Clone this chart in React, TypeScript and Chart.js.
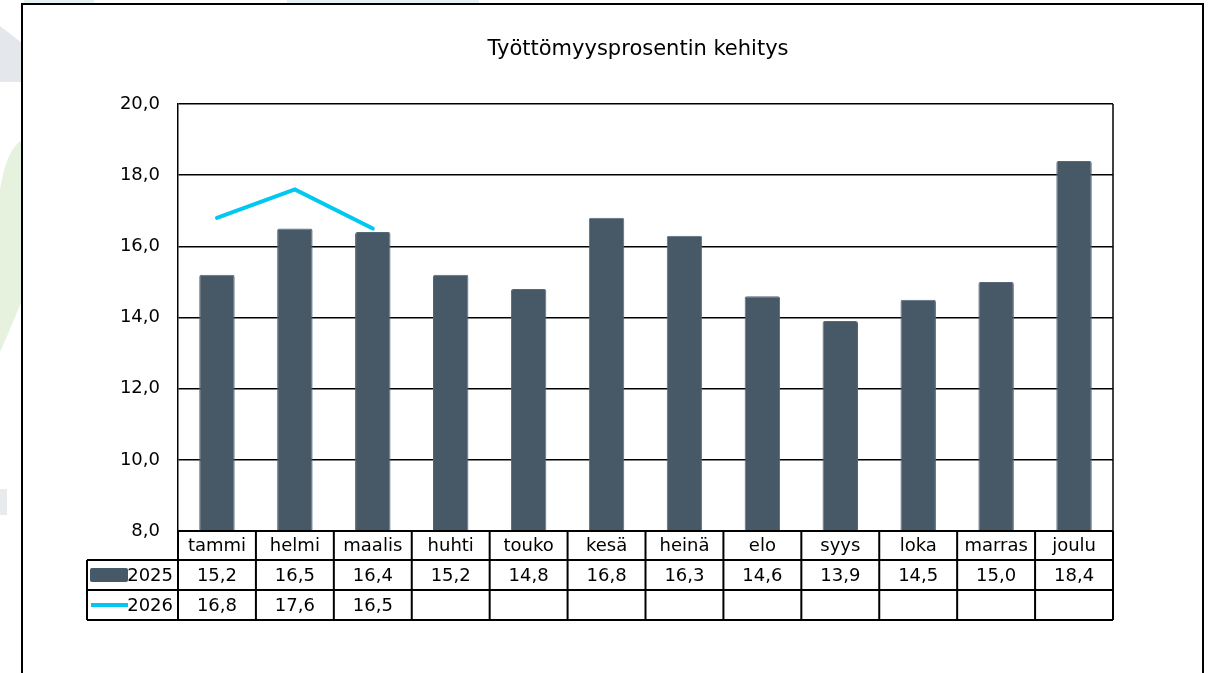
import React, { useEffect, useRef } from 'react';
import { Chart, registerables } from 'chart.js';

Chart.register(...registerables);

const TITLE = 'Työttömyysprosentin kehitys';
const MONTHS = ['tammi', 'helmi', 'maalis', 'huhti', 'touko', 'kesä', 'heinä', 'elo', 'syys', 'loka', 'marras', 'joulu'];
const LABEL_2025 = '2025';
const LABEL_2026 = '2026';
const VALUES_2025 = [15.2, 16.5, 16.4, 15.2, 14.8, 16.8, 16.3, 14.6, 13.9, 14.5, 15.0, 18.4];
const VALUES_2026: (number | null)[] = [16.8, 17.6, 16.5, null, null, null, null, null, null, null, null, null];
const Y_MIN = 8;
const Y_MAX = 20;
const Y_STEP = 2;

const BAR_COLOR = '#475866';
const BAR_EDGE = '#566779';
const LINE_COLOR = '#00c8f0';
const FONT = "'DejaVu Sans', sans-serif";

const fmt = (v: number) => v.toFixed(1).replace('.', ',');

const decorPlugin = {
  id: 'decor',
  beforeDraw(chart: any) {
    const ctx = chart.ctx;
    ctx.save();
    ctx.fillStyle = '#ffffff';
    ctx.fillRect(0, 0, chart.width, chart.height);
    // faint background shapes outside the frame
    ctx.fillStyle = '#e4e8ec';
    ctx.beginPath();
    ctx.moveTo(0, 26);
    ctx.lineTo(22, 43);
    ctx.lineTo(22, 82);
    ctx.lineTo(0, 82);
    ctx.closePath();
    ctx.fill();
    ctx.fillStyle = '#e6f1de';
    ctx.beginPath();
    ctx.moveTo(0, 190);
    ctx.quadraticCurveTo(6, 150, 22, 140);
    ctx.lineTo(22, 300);
    ctx.quadraticCurveTo(10, 330, 0, 352);
    ctx.closePath();
    ctx.fill();
    ctx.fillStyle = '#e8ebee';
    ctx.fillRect(0, 489, 7, 26);
    ctx.fillStyle = '#e4f0f2';
    ctx.fillRect(24, 0, 70, 3);
    ctx.fillRect(287, 0, 192, 3);
    // outer frame
    ctx.strokeStyle = '#000';
    ctx.lineWidth = 2;
    ctx.strokeRect(22, 4, 1181, 700);
    ctx.restore();
  },
  afterDraw(chart: any) {
    const ctx = chart.ctx;
    const area = chart.chartArea;
    const xs = chart.scales.x;
    const n = MONTHS.length;
    const colW = (area.right - area.left) / n;
    const y0 = area.bottom;
    const y1 = y0 + 29;
    const y2 = y1 + 30;
    const y3 = y2 + 30;
    const legLeft = 87;
    ctx.save();
    // title
    ctx.fillStyle = '#000';
    ctx.font = `21px ${FONT}`;
    ctx.textAlign = 'center';
    ctx.textBaseline = 'middle';
    ctx.fillText(TITLE, 638, 50);
    // right border of plot
    ctx.strokeStyle = '#000';
    ctx.lineWidth = 1.5;
    ctx.beginPath();
    ctx.moveTo(area.right, area.top);
    ctx.lineTo(area.right, area.bottom);
    ctx.stroke();
    // table lines
    ctx.lineWidth = 2;
    ctx.beginPath();
    ctx.moveTo(area.left, y0);
    ctx.lineTo(area.right, y0);
    for (const y of [y1, y2, y3]) {
      ctx.moveTo(legLeft, y);
      ctx.lineTo(area.right, y);
    }
    ctx.moveTo(legLeft, y1);
    ctx.lineTo(legLeft, y3);
    for (let i = 0; i <= n; i++) {
      const x = area.left + i * colW;
      ctx.moveTo(x, y0);
      ctx.lineTo(x, y3);
    }
    ctx.stroke();
    // texts
    ctx.font = `18px ${FONT}`;
    ctx.fillStyle = '#000';
    ctx.textAlign = 'center';
    ctx.textBaseline = 'middle';
    for (let i = 0; i < n; i++) {
      const cx = xs.getPixelForValue(i);
      ctx.fillText(MONTHS[i], cx, (y0 + y1) / 2 + 1);
      const a = VALUES_2025[i];
      if (a != null) ctx.fillText(fmt(a), cx, (y1 + y2) / 2 + 1);
      const b = VALUES_2026[i];
      if (b != null) ctx.fillText(fmt(b), cx, (y2 + y3) / 2 + 1);
    }
    // legend keys
    ctx.fillStyle = BAR_COLOR;
    ctx.beginPath();
    (ctx as any).roundRect(90, y1 + 8, 38, 14, 2);
    ctx.fill();
    ctx.strokeStyle = LINE_COLOR;
    ctx.lineWidth = 4;
    ctx.beginPath();
    ctx.moveTo(91, (y2 + y3) / 2);
    ctx.lineTo(128, (y2 + y3) / 2);
    ctx.stroke();
    ctx.fillStyle = '#000';
    ctx.textAlign = 'right';
    ctx.fillText(LABEL_2025, 173, (y1 + y2) / 2 + 1);
    ctx.fillText(LABEL_2026, 173, (y2 + y3) / 2 + 1);
    ctx.restore();
  },
};

export default function App() {
  const ref = useRef<HTMLCanvasElement | null>(null);
  useEffect(() => {
    if (!ref.current) return;
    const chart = new Chart(ref.current, {
      type: 'bar',
      data: {
        labels: MONTHS,
        datasets: [
          {
            type: 'bar',
            label: LABEL_2025,
            data: VALUES_2025,
            backgroundColor: BAR_COLOR,
            borderColor: BAR_EDGE,
            borderWidth: 1,
            borderRadius: 2,
            barPercentage: 0.455,
            categoryPercentage: 1,
            order: 2,
          },
          {
            type: 'line',
            label: LABEL_2026,
            data: VALUES_2026,
            borderColor: LINE_COLOR,
            borderWidth: 4,
            borderCapStyle: 'round',
            borderJoinStyle: 'miter',
            pointRadius: 0,
            tension: 0,
            spanGaps: false,
            order: 1,
          },
        ],
      } as any,
      options: {
        animation: false,
        responsive: false,
        devicePixelRatio: 1,
        layout: { padding: { left: 100, right: 104, top: 104, bottom: 142 } },
        plugins: {
          legend: { display: false },
          title: { display: false },
          tooltip: { enabled: false },
        },
        scales: {
          x: { display: false },
          y: {
            min: Y_MIN,
            max: Y_MAX,
            afterFit: (s: any) => {
              s.width = 78;
            },
            ticks: {
              stepSize: Y_STEP,
              padding: 18,
              color: '#000',
              font: { family: FONT, size: 18 },
              callback: (v: any) => fmt(Number(v)),
            },
            grid: { color: '#000', lineWidth: 1.5, drawTicks: false },
            border: { display: true, color: '#000', width: 1.5 },
          },
        },
      } as any,
      plugins: [decorPlugin],
    });
    return () => chart.destroy();
  }, []);
  return (
    <canvas
      ref={ref}
      width={1217}
      height={673}
      style={{ position: 'absolute', left: 0, top: 0, width: 1217, height: 673 }}
    />
  );
}
